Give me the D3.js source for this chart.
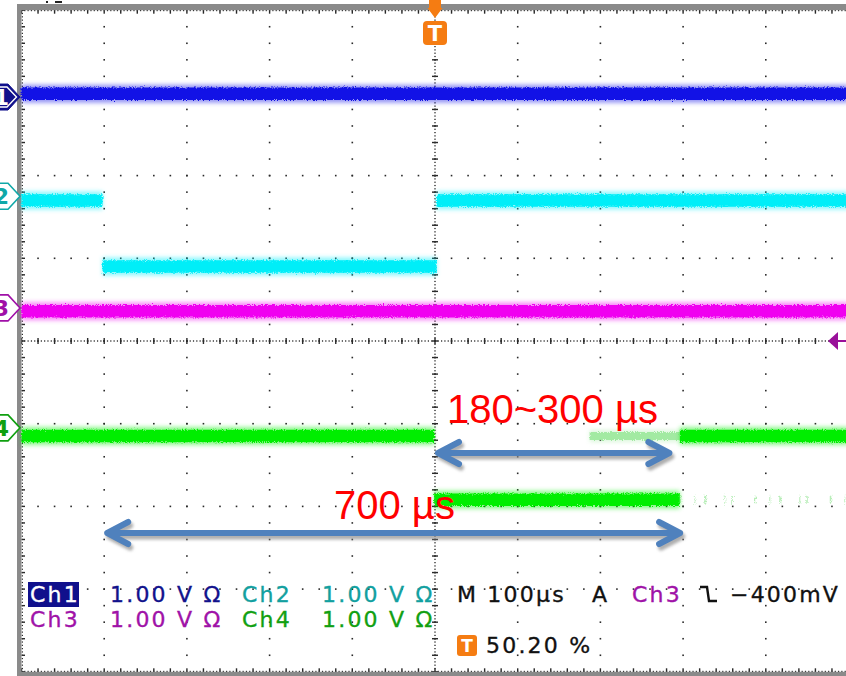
<!DOCTYPE html>
<html>
<head>
<meta charset="utf-8">
<script src="https://cdn.jsdelivr.net/npm/d3@7"></script>
<style>
  html, body { margin: 0; padding: 0; background: #fff; }
  svg { display: block; }
</style>
</head>
<body>
<svg id="scope" width="846" height="676"></svg>
<script>
// ---- acquisition setup ----
const timePerDiv = 100;              // µs / div  (M 100µs)
const timeDomain = [-500, 500];      // µs around the trigger point
const voltsPerDiv = [1, 1, 1, 1];    // V / div for Ch1..Ch4
const channelNames = ["Ch1", "Ch2", "Ch3", "Ch4"];
const channelOffsets = [2.95, 1.75, 0.4, -1.05]; // ground marker position, divisions from centre
const triggerLevel = -0.4;           // V on Ch3

// ---- trace levels: [start µs, end µs, volts] ----
const ch1Segments = [[-500, 500, 0.04]];
const ch2Segments = [[-500, -402, -0.05], [-402, 2, -0.85], [2, 500, -0.05]];
const ch3Segments = [[-500, 500, -0.04]];
const ch4Segments = [[-500, -1, -0.1], [-1, 296, -0.87], [296, 500, -0.1]];
// persistence left by earlier acquisitions on Ch4
const ch4Persist = [[187, 296, -0.1]];
const ch4Sparse = [[296, 500, -0.87]];

// ---- measurement spans: [start µs, end µs] ----
const spanLabels = ["180~300 µs", "700 µs"];
const spanTimes = [[0, 287], [-400, 300]];

// ---- readout text ----
const readoutRow1 = ["Ch1", "1.00 V Ω", "Ch2", "1.00 V Ω", "M 100µs", "A", "Ch3", "−400mV"];
const readoutRow2 = ["Ch3", "1.00 V Ω", "Ch4", "1.00 V Ω"];
const triggerPosition = "50.20 %";

// ---- drawing ----
const svg = d3.select("#scope");
const W = 846, H = 676;
const x = d3.scaleLinear().domain(timeDomain).range([21.5, 848.5]);
const y = d3.scaleLinear().domain([-4, 4]).range([671.8, 10.2]); // divisions

const traceColors = ["#1212e6", "#00eef8", "#f000f0", "#00ee00"];
const markerColors = ["#10108c", "#10a8a8", "#a010a8", "#10a010"];
const textColors = ["#12128c", "#12a0a0", "#a012a8", "#12a012"];
const orange = "#f57c12";

const defs = svg.append("defs");
function screenFilter(id) {
  return defs.append("filter").attr("id", id).attr("filterUnits", "userSpaceOnUse")
    .attr("color-interpolation-filters", "sRGB")
    .attr("x", 0).attr("y", 0).attr("width", W).attr("height", H);
}
const fuzz = screenFilter("fuzz");
fuzz.append("feTurbulence").attr("type", "fractalNoise").attr("baseFrequency", "0.9")
  .attr("numOctaves", 2).attr("seed", 3).attr("result", "n");
fuzz.append("feDisplacementMap").attr("in", "SourceGraphic").attr("in2", "n")
  .attr("scale", 5).attr("xChannelSelector", "R").attr("yChannelSelector", "G");
screenFilter("halo").append("feGaussianBlur").attr("stdDeviation", 2.2);
screenFilter("shadow").append("feGaussianBlur").attr("stdDeviation", 1.6);

svg.append("rect").attr("width", W).attr("height", H).attr("fill", "#fff");

// graticule
const grid = svg.append("g").attr("fill", "#2a2a2a");
const majorT = d3.range(timeDomain[0], timeDomain[1] + 1, timePerDiv);
const minorT = d3.range(timeDomain[0], timeDomain[1] + 0.1, timePerDiv / 5);
const majorD = d3.range(-4, 4.01, 1);
const minorD = d3.range(-4, 4.01, 0.2);

majorT.slice(1, -1).forEach(t => {
  minorD.slice(1, -1).forEach(d => {
    grid.append("rect").attr("x", x(t) - 0.8).attr("y", y(d) - 0.8).attr("width", 1.6).attr("height", 1.6);
  });
});
majorD.slice(1, -1).forEach(d => {
  minorT.slice(1, -1).forEach(t => {
    grid.append("rect").attr("x", x(t) - 0.8).attr("y", y(d) - 0.8).attr("width", 1.6).attr("height", 1.6);
  });
});

// centre crosshair: fine dotted lines with minor ticks
const cx = x(0), cy = y(0);
const fineD = d3.range(-4, 4.001, 0.04);
const fineT = d3.range(timeDomain[0], timeDomain[1] + 0.01, timePerDiv / 25);
fineD.forEach(d => grid.append("rect").attr("x", cx - 0.7).attr("y", y(d) - 0.6).attr("width", 1.4).attr("height", 1.2));
fineT.forEach(t => grid.append("rect").attr("x", x(t) - 0.6).attr("y", cy - 0.7).attr("width", 1.2).attr("height", 1.4));
minorD.forEach(d => grid.append("rect").attr("x", cx - 3).attr("y", y(d) - 0.7).attr("width", 6).attr("height", 1.4));
minorT.forEach(t => grid.append("rect").attr("x", x(t) - 0.7).attr("y", cy - 3).attr("width", 1.4).attr("height", 6));

// frame edges with fine ticks
fineT.forEach(t => {
  grid.append("rect").attr("x", x(t) - 0.6).attr("y", y(4) - 0.3).attr("width", 1.2).attr("height", 1.3);
  grid.append("rect").attr("x", x(t) - 0.6).attr("y", y(-4) - 1).attr("width", 1.2).attr("height", 1.3);
});
fineD.forEach(d => grid.append("rect").attr("x", x(-500) + 0.2).attr("y", y(d) - 0.6).attr("width", 1.3).attr("height", 1.2));
minorT.forEach(t => {
  grid.append("rect").attr("x", x(t) - 0.7).attr("y", y(4)).attr("width", 1.4).attr("height", 3.5);
  grid.append("rect").attr("x", x(t) - 0.7).attr("y", y(-4) - 3.5).attr("width", 1.4).attr("height", 3.5);
});
minorD.forEach(d => grid.append("rect").attr("x", x(-500)).attr("y", y(d) - 0.7).attr("width", 3.5).attr("height", 1.4));

const frame = svg.append("g").attr("fill", "#8a8a8a");
frame.append("rect").attr("x", 17).attr("y", 4).attr("width", W - 17).attr("height", y(4) - 4);
frame.append("rect").attr("x", 17).attr("y", 4).attr("width", x(-500) - 17).attr("height", H - 4);
frame.append("rect").attr("x", 17).attr("y", y(-4)).attr("width", W - 17).attr("height", H - y(-4));
svg.append("rect").attr("x", 46).attr("y", 1).attr("width", 2).attr("height", 2).attr("fill", "#222");
svg.append("rect").attr("x", 55).attr("y", 1).attr("width", 7).attr("height", 2).attr("fill", "#222");

// traces
const level = (ch, v) => y(channelOffsets[ch] + v / voltsPerDiv[ch]);
const line = d3.line();
function drawSegments(ch, segs, opts) {
  const g = svg.append("g");
  segs.forEach(([t0, t1, v]) => {
    const pts = [[x(t0), level(ch, v)], [x(t1), level(ch, v)]];
    g.append("path").attr("d", line(pts)).attr("fill", "none")
      .attr("stroke", opts.color).attr("stroke-width", opts.halo)
      .attr("stroke-opacity", opts.haloOpacity).attr("filter", "url(#halo)");
    g.append("path").attr("d", line(pts)).attr("fill", "none")
      .attr("stroke", opts.color).attr("stroke-width", opts.width)
      .attr("stroke-opacity", opts.opacity).attr("filter", "url(#fuzz)");
  });
}
const allSegments = [ch1Segments, ch2Segments, ch3Segments, ch4Segments];
drawSegments(3, ch4Persist, { color: "#9be89b", width: 8, halo: 12, haloOpacity: 0.35, opacity: 0.9 });
svg.append("g").selectAll("path").data(ch4Sparse).join("path")
  .attr("d", ([t0, t1, v]) => line([[x(t0), level(3, v)], [x(t1), level(3, v)]]))
  .attr("fill", "none").attr("stroke", "#7ee07e").attr("stroke-opacity", 0.55)
  .attr("stroke-width", 8).attr("stroke-dasharray", "1.5 13 1 9 2 18 1 6 1.5 22")
  .attr("filter", "url(#fuzz)");
allSegments.forEach((segs, ch) => {
  drawSegments(ch, segs, { color: traceColors[ch], width: 12.5, halo: 18, haloOpacity: 0.45, opacity: 1 });
});

// channel ground markers
channelNames.forEach((name, ch) => {
  const my = y(channelOffsets[ch]);
  const h = 13;
  const pts = [[-6, my - h], [8, my - h], [20, my], [8, my + h], [-6, my + h]];
  const filled = ch === 0;
  svg.append("path").attr("d", d3.line()(pts) + "Z")
    .attr("fill", filled ? markerColors[ch] : "#fff")
    .attr("stroke", markerColors[ch]).attr("stroke-width", filled ? 1 : 1.6);
  if (filled) {
    const inner = [[-6, my - h + 3], [7, my - h + 3], [16.5, my], [7, my + h - 3], [-6, my + h - 3]];
    svg.append("path").attr("d", d3.line()(inner) + "Z").attr("fill", markerColors[ch])
      .attr("stroke", "#fff").attr("stroke-width", 1.4);
  }
  svg.append("text").attr("x", 1.5).attr("y", my + 8).attr("text-anchor", "middle")
    .attr("font-family", "DejaVu Sans, sans-serif").attr("font-weight", "bold").attr("font-size", 22)
    .attr("fill", filled ? "#fff" : markerColors[ch]).text(String(ch + 1));
});

// trigger point marker
svg.append("path").attr("d", `M${cx - 6},0 H${cx + 6} V8 H${cx + 7.5} L${cx},18 L${cx - 7.5},8 H${cx - 6} Z`).attr("fill", orange);
svg.append("rect").attr("x", cx - 12).attr("y", 21).attr("width", 24).attr("height", 24).attr("rx", 4).attr("fill", orange);
svg.append("text").attr("x", cx).attr("y", 40.5).attr("text-anchor", "middle")
  .attr("font-family", "DejaVu Sans, sans-serif").attr("font-weight", "bold").attr("font-size", 21)
  .attr("fill", "#fff").text("T");

// trigger level marker on the right edge
const ty = level(2, triggerLevel);
svg.append("path").attr("d", `M828,${ty} L838,${ty - 9} L838,${ty + 9} Z`).attr("fill", "#9a109a");
svg.append("rect").attr("x", 837).attr("y", ty - 1).attr("width", 10).attr("height", 2).attr("fill", "#9a109a");

// measurement arrows (tips end on the span limits)
const arrowY = [453, 533];
const blue = "#4f81bd";
spanTimes.forEach(([t0, t1], i) => {
  const ay = arrowY[i], a = x(t0) + 3, b = x(t1) - 3;
  const d = `M${a},${ay} H${b} M${a + 21},${ay - 11} L${a},${ay} L${a + 21},${ay + 11} M${b - 21},${ay - 11} L${b},${ay} L${b - 21},${ay + 11}`;
  svg.append("path").attr("d", d).attr("transform", "translate(2,3.5)").attr("fill", "none")
    .attr("stroke", "#8c8c8c").attr("stroke-opacity", 0.7).attr("stroke-width", 6)
    .attr("stroke-linecap", "round").attr("stroke-linejoin", "round").attr("filter", "url(#shadow)");
  svg.append("path").attr("d", d).attr("fill", "none").attr("stroke", blue).attr("stroke-width", 6)
    .attr("stroke-linecap", "round").attr("stroke-linejoin", "round");
});
const labelPos = [[447, 423], [334, 519]];
spanLabels.forEach((s, i) => {
  svg.append("text").attr("x", labelPos[i][0]).attr("y", labelPos[i][1])
    .attr("font-family", "Liberation Sans, Arial, sans-serif").attr("font-size", 40)
    .attr("fill", "#ff0000").text(s);
});

// readout
const ro = svg.append("g").attr("font-family", "DejaVu Sans, sans-serif").attr("font-size", 22)
  .attr("letter-spacing", 2.2);
ro.append("rect").attr("x", 28).attr("y", 582).attr("width", 51).attr("height", 25).attr("fill", "#10108c");
const row1X = [30, 110, 242, 322, 457, 592, 632, 730];
const row1C = ["#fff", textColors[0], textColors[1], textColors[1], "#111", "#111", textColors[2], "#111"];
readoutRow1.forEach((s, i) => ro.append("text").attr("x", row1X[i]).attr("y", 602).attr("fill", row1C[i])
  .attr("stroke", row1C[i]).attr("stroke-width", 0.35).text(s));
const row2X = [30, 110, 242, 322];
const row2C = [textColors[2], textColors[2], textColors[3], textColors[3]];
readoutRow2.forEach((s, i) => ro.append("text").attr("x", row2X[i]).attr("y", 627).attr("fill", row2C[i])
  .attr("stroke", row2C[i]).attr("stroke-width", 0.35).text(s));
// falling-edge slope glyph
ro.append("path").attr("d", "M700,587 H707 L709,601 H717").attr("fill", "none").attr("stroke", "#111").attr("stroke-width", 2.4);
ro.append("rect").attr("x", 457).attr("y", 635).attr("width", 20).attr("height", 21).attr("rx", 3).attr("fill", orange);
ro.append("text").attr("x", 467).attr("y", 652).attr("text-anchor", "middle").attr("letter-spacing", 0)
  .attr("font-weight", "bold").attr("font-size", 17).attr("fill", "#fff").text("T");
ro.append("text").attr("x", 486).attr("y", 653).attr("fill", "#111")
  .attr("stroke", "#111").attr("stroke-width", 0.35).text(triggerPosition);
</script>
</body>
</html>
